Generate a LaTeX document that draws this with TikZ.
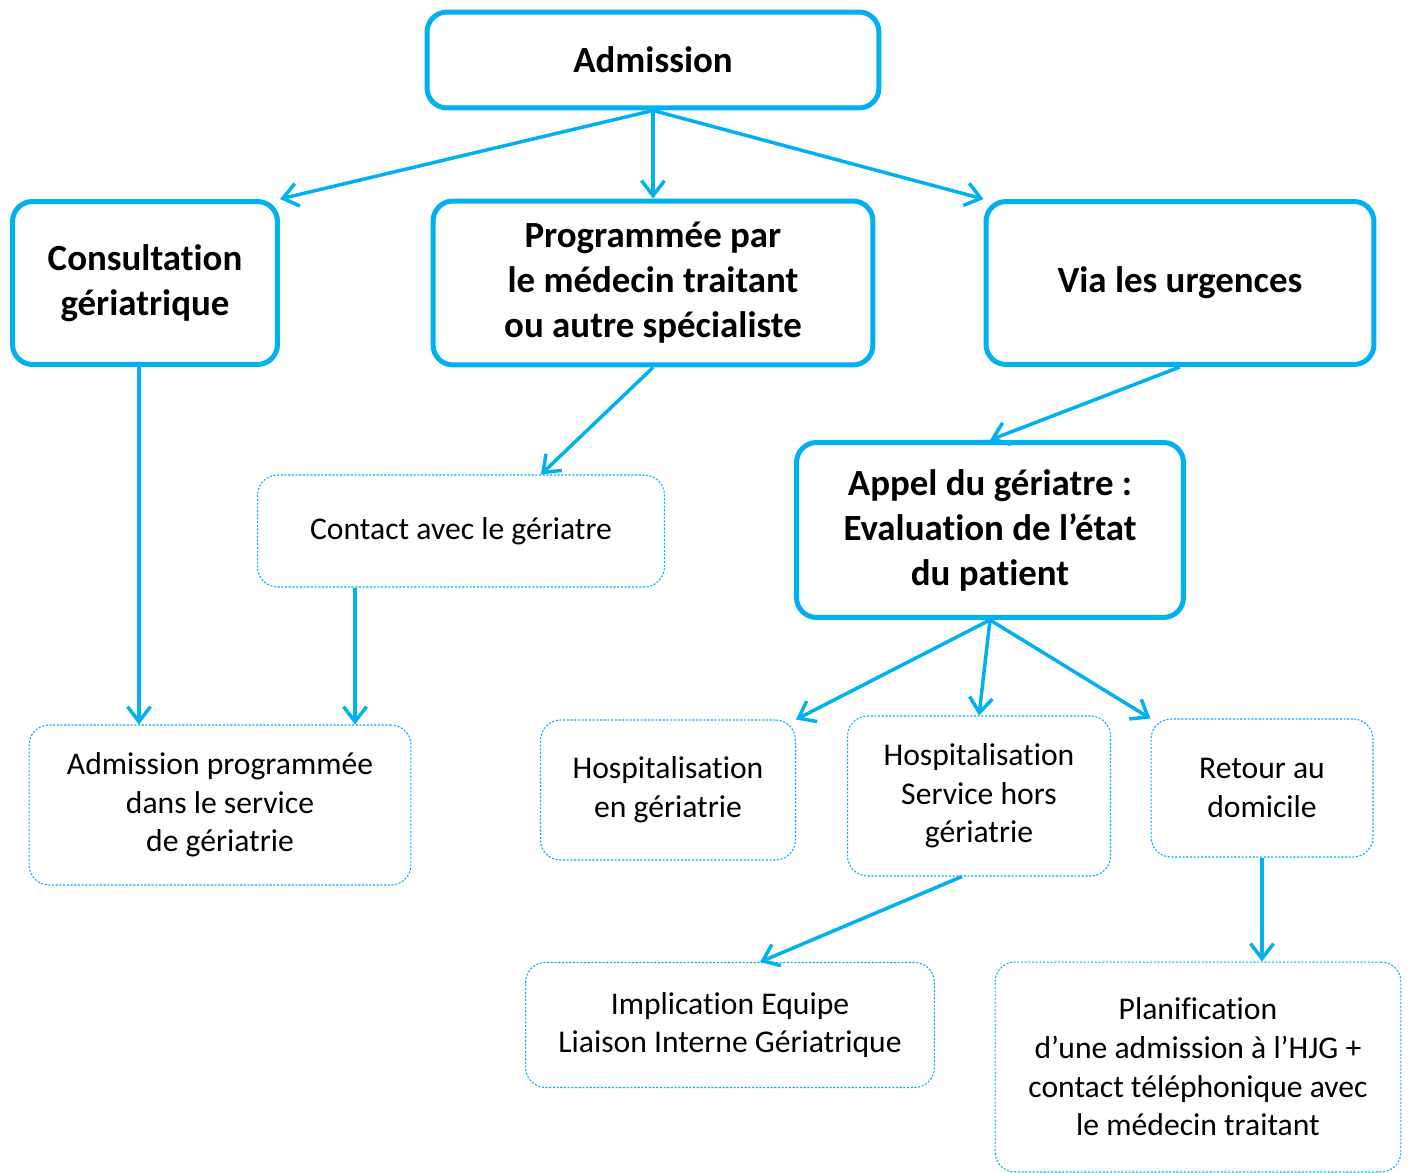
\documentclass[tikz,border=0pt]{standalone}
\usepackage{fontspec}
\setmainfont{Carlito}[Ligatures=NoCommon]
\usetikzlibrary{arrows.meta,positioning}
\definecolor{gerblue}{HTML}{00B0F0}
\tikzset{
  pathbox/.style={draw=gerblue, line width=0.1cm, rounded corners=0.4cm, align=center,
    inner sep=0pt, font=\fontsize{21}{25.6}\selectfont\bfseries},
  notebox/.style={draw=gerblue, line width=0.6pt, dash pattern=on 1.2pt off 0.9pt,
    rounded corners=0.4cm, align=center, inner sep=0pt, font=\fontsize{18}{22}\selectfont},
  patharrow/.style={draw=gerblue, line width=0.07cm, -{Straight Barb[length=0.3cm, width=0.46cm]}}
}

\begin{document}
\begin{tikzpicture}[x=0.02cm, y=-0.02cm]
    \useasboundingbox (0,0) rectangle (1411,1173);
    % top level
    \node[pathbox, minimum width=9.04cm, minimum height=1.92cm] (adm) at (653,60) {Admission};
    \node[pathbox, minimum width=5.3cm, minimum height=3.26cm] (consult) at (145,283) {Consultation\\g\'eriatrique};
    \node[pathbox, minimum width=8.8cm, minimum height=3.28cm] (prog) at (653,283) {Programm\'ee par\\le m\'edecin traitant\\ou autre sp\'ecialiste};
    \node[pathbox, minimum width=7.76cm, minimum height=3.26cm] (urg) at (1180,283) {Via les urgences};
    % middle
    \node[notebox, minimum width=8.14cm, minimum height=2.24cm] (contact) at (461,531) {Contact avec le g\'eriatre};
    \node[pathbox, minimum width=7.74cm, minimum height=3.5cm] (appel) at (990,530) {Appel du g\'eriatre :\\Evaluation de l’\'etat\\du patient};
    % outcomes
    \node[notebox, minimum width=7.64cm, minimum height=3.2cm] (admprog) at (220,805) {Admission programm\'ee\\dans le service\\de g\'eriatrie};
    \node[notebox, minimum width=5.1cm, minimum height=2.8cm] (hospger) at (668,790) {Hospitalisation\\en g\'eriatrie};
    \node[notebox, minimum width=5.26cm, minimum height=3.2cm] (hors) at (979,796) {Hospitalisation\\Service hors\\g\'eriatrie};
    \node[notebox, minimum width=4.44cm, minimum height=2.76cm] (retour) at (1262,788) {Retour au\\domicile};
    \node[notebox, minimum width=8.18cm, minimum height=2.5cm] (impl) at (730,1025) {Implication Equipe\\Liaison Interne G\'eriatrique};
    \node[notebox, minimum width=8.12cm, minimum height=4.2cm] (planif) at (1198,1067) {Planification\\d’une admission \`a l’HJG +\\contact t\'el\'ephonique avec\\le m\'edecin traitant};
    % connectors
    \draw[patharrow] (adm.south) -- (consult.north east);
    \draw[patharrow] (adm.south) -- (prog.north);
    \draw[patharrow] (adm.south) -- (urg.north west);
    \draw[patharrow] ([xshift=-0.12cm]consult.south) coordinate (cn) -- (cn |- admprog.north);
    \draw[patharrow] (prog.south) -- ([xshift=1.6cm]contact.north);
    \draw[patharrow] ([xshift=-2.12cm]contact.south) coordinate (cs) -- (cs |- admprog.north);
    \draw[patharrow] (urg.south) -- (appel.north);
    \draw[patharrow] (appel.south) -- (hospger.north east);
    \draw[patharrow] (appel.south) -- (hors.north);
    \draw[patharrow] (appel.south) -- (retour.north west);
    \draw[patharrow] ([xshift=-0.34cm]hors.south) -- ([xshift=0.6cm]impl.north);
    \draw[patharrow] (retour.south) -- (retour.south |- planif.north);
  \end{tikzpicture}
\end{document}
